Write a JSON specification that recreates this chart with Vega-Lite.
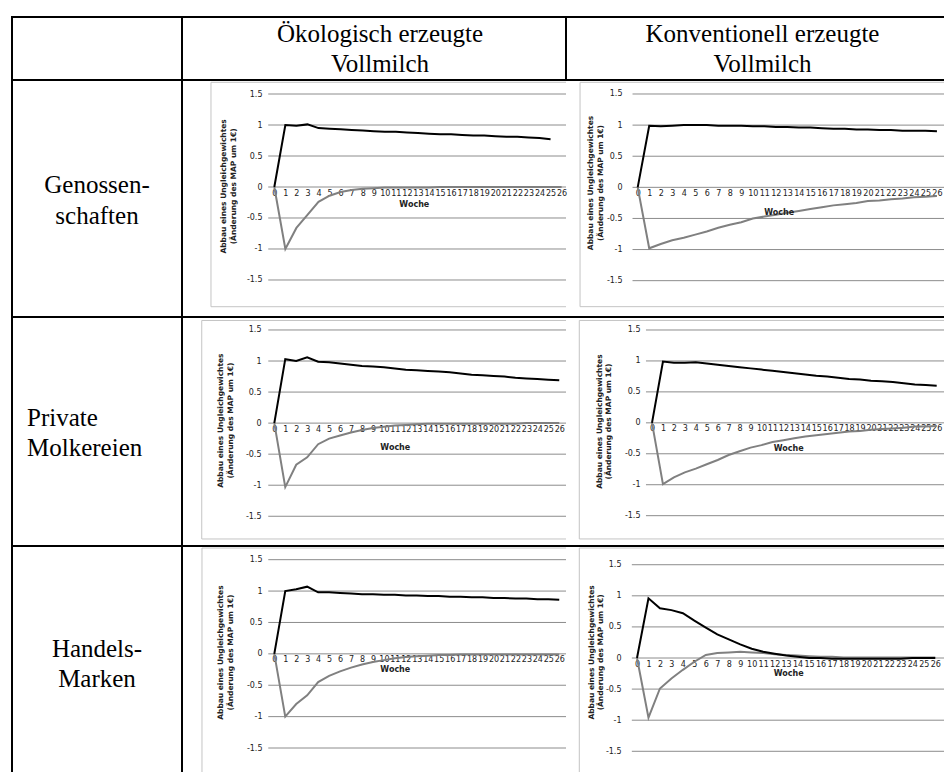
{
"$schema": "https://vega.github.io/schema/vega-lite/v6.json",
"background": "white",
"padding": {"left": 11, "top": 16, "right": 0, "bottom": 0},
"columns": 3,
"spacing": 0,
"bounds": "flush",
"config": {"concat": {"spacing": 0}, "view": {"stroke": null},
 "axis": {"labelOverlap": false, "labelFlush": false, "labelBound": false, "domain": false, "ticks": false, "tickSize": 0, "grid": false, "labelFont": "DejaVu Sans", "labelFontSize": 8, "labelColor": "#222", "titleFontSize": 0, "zindex": 1},
 "axisX": {"labelPadding": 2},
 "axisY": {"labelPadding": 0}},
"datasets": {
"one": [{"k": 1}],
"grid": [{"g": -1.5}, {"g": -1}, {"g": -0.5}, {"g": 0}, {"g": 0.5}, {"g": 1}, {"g": 1.5}],
"p1": [
{"w":0,"s":"a","v":0},{"w":1,"s":"a","v":1.0},{"w":2,"s":"a","v":0.99},{"w":3,"s":"a","v":1.01},{"w":4,"s":"a","v":0.95},{"w":5,"s":"a","v":0.94},{"w":6,"s":"a","v":0.93},{"w":7,"s":"a","v":0.92},{"w":8,"s":"a","v":0.91},{"w":9,"s":"a","v":0.9},{"w":10,"s":"a","v":0.89},{"w":11,"s":"a","v":0.89},{"w":12,"s":"a","v":0.88},{"w":13,"s":"a","v":0.87},{"w":14,"s":"a","v":0.86},{"w":15,"s":"a","v":0.85},{"w":16,"s":"a","v":0.85},{"w":17,"s":"a","v":0.84},{"w":18,"s":"a","v":0.83},{"w":19,"s":"a","v":0.83},{"w":20,"s":"a","v":0.82},{"w":21,"s":"a","v":0.81},{"w":22,"s":"a","v":0.81},{"w":23,"s":"a","v":0.8},{"w":24,"s":"a","v":0.79},{"w":25,"s":"a","v":0.77},
{"w":0,"s":"b","v":0},{"w":1,"s":"b","v":-1.0},{"w":2,"s":"b","v":-0.66},{"w":3,"s":"b","v":-0.45},{"w":4,"s":"b","v":-0.24},{"w":5,"s":"b","v":-0.14},{"w":6,"s":"b","v":-0.08},{"w":7,"s":"b","v":-0.05},{"w":8,"s":"b","v":-0.03},{"w":9,"s":"b","v":-0.02},{"w":10,"s":"b","v":-0.01},{"w":11,"s":"b","v":-0.01},{"w":12,"s":"b","v":-0.01},{"w":13,"s":"b","v":-0.01},{"w":14,"s":"b","v":-0.01},{"w":15,"s":"b","v":0},{"w":16,"s":"b","v":0},{"w":17,"s":"b","v":0},{"w":18,"s":"b","v":0},{"w":19,"s":"b","v":0},{"w":20,"s":"b","v":0},{"w":21,"s":"b","v":0},{"w":22,"s":"b","v":0},{"w":23,"s":"b","v":0},{"w":24,"s":"b","v":0},{"w":25,"s":"b","v":0},{"w":26,"s":"b","v":0}
],
"p2": [
{"w":0,"s":"a","v":0},{"w":1,"s":"a","v":0.99},{"w":2,"s":"a","v":0.98},{"w":3,"s":"a","v":0.99},{"w":4,"s":"a","v":1.0},{"w":5,"s":"a","v":1.0},{"w":6,"s":"a","v":1.0},{"w":7,"s":"a","v":0.99},{"w":8,"s":"a","v":0.99},{"w":9,"s":"a","v":0.99},{"w":10,"s":"a","v":0.98},{"w":11,"s":"a","v":0.98},{"w":12,"s":"a","v":0.97},{"w":13,"s":"a","v":0.97},{"w":14,"s":"a","v":0.96},{"w":15,"s":"a","v":0.96},{"w":16,"s":"a","v":0.95},{"w":17,"s":"a","v":0.94},{"w":18,"s":"a","v":0.94},{"w":19,"s":"a","v":0.93},{"w":20,"s":"a","v":0.93},{"w":21,"s":"a","v":0.92},{"w":22,"s":"a","v":0.92},{"w":23,"s":"a","v":0.91},{"w":24,"s":"a","v":0.91},{"w":25,"s":"a","v":0.91},{"w":26,"s":"a","v":0.9},
{"w":0,"s":"b","v":0},{"w":1,"s":"b","v":-0.98},{"w":2,"s":"b","v":-0.91},{"w":3,"s":"b","v":-0.85},{"w":4,"s":"b","v":-0.81},{"w":5,"s":"b","v":-0.76},{"w":6,"s":"b","v":-0.71},{"w":7,"s":"b","v":-0.65},{"w":8,"s":"b","v":-0.6},{"w":9,"s":"b","v":-0.56},{"w":10,"s":"b","v":-0.5},{"w":11,"s":"b","v":-0.47},{"w":12,"s":"b","v":-0.44},{"w":13,"s":"b","v":-0.41},{"w":14,"s":"b","v":-0.38},{"w":15,"s":"b","v":-0.35},{"w":16,"s":"b","v":-0.32},{"w":17,"s":"b","v":-0.29},{"w":18,"s":"b","v":-0.27},{"w":19,"s":"b","v":-0.25},{"w":20,"s":"b","v":-0.22},{"w":21,"s":"b","v":-0.21},{"w":22,"s":"b","v":-0.19},{"w":23,"s":"b","v":-0.18},{"w":24,"s":"b","v":-0.16},{"w":25,"s":"b","v":-0.15},{"w":26,"s":"b","v":-0.14}
],
"p3": [
{"w":0,"s":"a","v":0},{"w":1,"s":"a","v":1.03},{"w":2,"s":"a","v":1.0},{"w":3,"s":"a","v":1.06},{"w":4,"s":"a","v":0.99},{"w":5,"s":"a","v":0.98},{"w":6,"s":"a","v":0.96},{"w":7,"s":"a","v":0.94},{"w":8,"s":"a","v":0.92},{"w":9,"s":"a","v":0.91},{"w":10,"s":"a","v":0.9},{"w":11,"s":"a","v":0.88},{"w":12,"s":"a","v":0.86},{"w":13,"s":"a","v":0.85},{"w":14,"s":"a","v":0.84},{"w":15,"s":"a","v":0.83},{"w":16,"s":"a","v":0.82},{"w":17,"s":"a","v":0.8},{"w":18,"s":"a","v":0.78},{"w":19,"s":"a","v":0.77},{"w":20,"s":"a","v":0.76},{"w":21,"s":"a","v":0.75},{"w":22,"s":"a","v":0.73},{"w":23,"s":"a","v":0.72},{"w":24,"s":"a","v":0.71},{"w":25,"s":"a","v":0.7},{"w":26,"s":"a","v":0.69},
{"w":0,"s":"b","v":0},{"w":1,"s":"b","v":-1.03},{"w":2,"s":"b","v":-0.67},{"w":3,"s":"b","v":-0.55},{"w":4,"s":"b","v":-0.34},{"w":5,"s":"b","v":-0.25},{"w":6,"s":"b","v":-0.2},{"w":7,"s":"b","v":-0.15},{"w":8,"s":"b","v":-0.11},{"w":9,"s":"b","v":-0.08},{"w":10,"s":"b","v":-0.06},{"w":11,"s":"b","v":-0.04},{"w":12,"s":"b","v":-0.03},{"w":13,"s":"b","v":-0.02},{"w":14,"s":"b","v":-0.01},{"w":15,"s":"b","v":-0.01},{"w":16,"s":"b","v":-0.01},{"w":17,"s":"b","v":-0.01},{"w":18,"s":"b","v":-0.01},{"w":19,"s":"b","v":-0.01},{"w":20,"s":"b","v":-0.01},{"w":21,"s":"b","v":-0.01},{"w":22,"s":"b","v":-0.01},{"w":23,"s":"b","v":0},{"w":24,"s":"b","v":0},{"w":25,"s":"b","v":0},{"w":26,"s":"b","v":0}
],
"p4": [
{"w":0,"s":"a","v":0},{"w":1,"s":"a","v":0.99},{"w":2,"s":"a","v":0.97},{"w":3,"s":"a","v":0.97},{"w":4,"s":"a","v":0.98},{"w":5,"s":"a","v":0.96},{"w":6,"s":"a","v":0.94},{"w":7,"s":"a","v":0.92},{"w":8,"s":"a","v":0.9},{"w":9,"s":"a","v":0.88},{"w":10,"s":"a","v":0.86},{"w":11,"s":"a","v":0.84},{"w":12,"s":"a","v":0.82},{"w":13,"s":"a","v":0.8},{"w":14,"s":"a","v":0.78},{"w":15,"s":"a","v":0.76},{"w":16,"s":"a","v":0.75},{"w":17,"s":"a","v":0.73},{"w":18,"s":"a","v":0.71},{"w":19,"s":"a","v":0.7},{"w":20,"s":"a","v":0.68},{"w":21,"s":"a","v":0.67},{"w":22,"s":"a","v":0.66},{"w":23,"s":"a","v":0.64},{"w":24,"s":"a","v":0.62},{"w":25,"s":"a","v":0.61},{"w":26,"s":"a","v":0.6},
{"w":0,"s":"b","v":0},{"w":1,"s":"b","v":-0.99},{"w":2,"s":"b","v":-0.88},{"w":3,"s":"b","v":-0.8},{"w":4,"s":"b","v":-0.74},{"w":5,"s":"b","v":-0.67},{"w":6,"s":"b","v":-0.6},{"w":7,"s":"b","v":-0.52},{"w":8,"s":"b","v":-0.46},{"w":9,"s":"b","v":-0.4},{"w":10,"s":"b","v":-0.36},{"w":11,"s":"b","v":-0.31},{"w":12,"s":"b","v":-0.28},{"w":13,"s":"b","v":-0.25},{"w":14,"s":"b","v":-0.22},{"w":15,"s":"b","v":-0.2},{"w":16,"s":"b","v":-0.18},{"w":17,"s":"b","v":-0.16},{"w":18,"s":"b","v":-0.14},{"w":19,"s":"b","v":-0.13},{"w":20,"s":"b","v":-0.11},{"w":21,"s":"b","v":-0.1},{"w":22,"s":"b","v":-0.09},{"w":23,"s":"b","v":-0.08},{"w":24,"s":"b","v":-0.06},{"w":25,"s":"b","v":-0.06},{"w":26,"s":"b","v":-0.05}
],
"p5": [
{"w":0,"s":"a","v":0},{"w":1,"s":"a","v":1.0},{"w":2,"s":"a","v":1.03},{"w":3,"s":"a","v":1.07},{"w":4,"s":"a","v":0.98},{"w":5,"s":"a","v":0.98},{"w":6,"s":"a","v":0.97},{"w":7,"s":"a","v":0.96},{"w":8,"s":"a","v":0.95},{"w":9,"s":"a","v":0.95},{"w":10,"s":"a","v":0.94},{"w":11,"s":"a","v":0.94},{"w":12,"s":"a","v":0.93},{"w":13,"s":"a","v":0.93},{"w":14,"s":"a","v":0.92},{"w":15,"s":"a","v":0.92},{"w":16,"s":"a","v":0.91},{"w":17,"s":"a","v":0.91},{"w":18,"s":"a","v":0.9},{"w":19,"s":"a","v":0.9},{"w":20,"s":"a","v":0.89},{"w":21,"s":"a","v":0.89},{"w":22,"s":"a","v":0.88},{"w":23,"s":"a","v":0.88},{"w":24,"s":"a","v":0.87},{"w":25,"s":"a","v":0.87},{"w":26,"s":"a","v":0.86},
{"w":0,"s":"b","v":0},{"w":1,"s":"b","v":-1.0},{"w":2,"s":"b","v":-0.8},{"w":3,"s":"b","v":-0.66},{"w":4,"s":"b","v":-0.45},{"w":5,"s":"b","v":-0.35},{"w":6,"s":"b","v":-0.28},{"w":7,"s":"b","v":-0.22},{"w":8,"s":"b","v":-0.17},{"w":9,"s":"b","v":-0.13},{"w":10,"s":"b","v":-0.1},{"w":11,"s":"b","v":-0.07},{"w":12,"s":"b","v":-0.05},{"w":13,"s":"b","v":-0.04},{"w":14,"s":"b","v":-0.03},{"w":15,"s":"b","v":-0.02},{"w":16,"s":"b","v":-0.02},{"w":17,"s":"b","v":-0.01},{"w":18,"s":"b","v":-0.01},{"w":19,"s":"b","v":-0.01},{"w":20,"s":"b","v":-0.01},{"w":21,"s":"b","v":-0.01},{"w":22,"s":"b","v":-0.01},{"w":23,"s":"b","v":-0.01},{"w":24,"s":"b","v":-0.01},{"w":25,"s":"b","v":-0.01},{"w":26,"s":"b","v":-0.01}
],
"p6": [
{"w":0,"s":"a","v":0},{"w":1,"s":"a","v":0.96},{"w":2,"s":"a","v":0.8},{"w":3,"s":"a","v":0.77},{"w":4,"s":"a","v":0.72},{"w":5,"s":"a","v":0.6},{"w":6,"s":"a","v":0.49},{"w":7,"s":"a","v":0.38},{"w":8,"s":"a","v":0.3},{"w":9,"s":"a","v":0.22},{"w":10,"s":"a","v":0.15},{"w":11,"s":"a","v":0.1},{"w":12,"s":"a","v":0.07},{"w":13,"s":"a","v":0.04},{"w":14,"s":"a","v":0.02},{"w":15,"s":"a","v":0.0},{"w":16,"s":"a","v":0.0},{"w":17,"s":"a","v":-0.01},{"w":18,"s":"a","v":-0.01},{"w":19,"s":"a","v":-0.01},{"w":20,"s":"a","v":-0.01},{"w":21,"s":"a","v":-0.01},{"w":22,"s":"a","v":-0.01},{"w":23,"s":"a","v":-0.01},{"w":24,"s":"a","v":0.0},{"w":25,"s":"a","v":0.0},{"w":26,"s":"a","v":0.0},
{"w":0,"s":"b","v":0},{"w":1,"s":"b","v":-0.96},{"w":2,"s":"b","v":-0.49},{"w":3,"s":"b","v":-0.33},{"w":4,"s":"b","v":-0.19},{"w":5,"s":"b","v":-0.06},{"w":6,"s":"b","v":0.05},{"w":7,"s":"b","v":0.08},{"w":8,"s":"b","v":0.09},{"w":9,"s":"b","v":0.1},{"w":10,"s":"b","v":0.09},{"w":11,"s":"b","v":0.08},{"w":12,"s":"b","v":0.06},{"w":13,"s":"b","v":0.05},{"w":14,"s":"b","v":0.04},{"w":15,"s":"b","v":0.03},{"w":16,"s":"b","v":0.02},{"w":17,"s":"b","v":0.02},{"w":18,"s":"b","v":0.01},{"w":19,"s":"b","v":0.01},{"w":20,"s":"b","v":0.01},{"w":21,"s":"b","v":0.01},{"w":22,"s":"b","v":0.01},{"w":23,"s":"b","v":0.01},{"w":24,"s":"b","v":0.01},{"w":25,"s":"b","v":0.01},{"w":26,"s":"b","v":0.01}
]
},
"concat": [
 {"width": 170, "height": 63, "view": {"stroke": "black", "strokeWidth": 2}, "data": {"name": "one"}, "mark": {"type": "text", "text": " "}, "encoding": {}},
 {"width": 384, "height": 63, "view": {"stroke": "black", "strokeWidth": 2}, "data": {"name": "one"}, "mark": {"type": "text", "text": ["Ökologisch erzeugte", "Vollmilch"], "font": "Liberation Serif", "fontSize": 25, "lineHeight": 30, "align": "center", "baseline": "middle", "color": "black", "dx": 6, "dy": -15}, "encoding": {}},
 {"width": 379, "height": 63, "view": {"stroke": "black", "strokeWidth": 2}, "data": {"name": "one"}, "mark": {"type": "text", "text": ["Konventionell erzeugte", "Vollmilch"], "font": "Liberation Serif", "fontSize": 25, "lineHeight": 30, "align": "center", "baseline": "middle", "color": "black", "dx": 7, "dy": -15}, "encoding": {}},

 {"width": 170, "height": 237, "view": {"stroke": "black", "strokeWidth": 2}, "data": {"name": "one"}, "mark": {"type": "text", "text": ["Genossen-", "schaften"], "font": "Liberation Serif", "fontSize": 25, "lineHeight": 31, "align": "center", "baseline": "middle", "color": "black", "dy": -14}, "encoding": {}},
 {"width": 384, "height": 237, "layer": [
  {"data": {"name": "one"}, "mark": {"type": "rect", "fill": "transparent", "stroke": "#c4c4c4", "strokeWidth": 1, "clip": true}, "encoding": {"x": {"datum": -5.73, "type": "quantitative"}, "x2": {"datum": 40}, "y": {"datum": 1.689, "type": "quantitative"}, "y2": {"datum": -1.931}}},
  {"data": {"name": "grid"}, "mark": {"type": "rule", "color": "#8c8c8c", "strokeWidth": 1, "clip": true}, "encoding": {"y": {"field": "g", "type": "quantitative"}, "x": {"datum": -0.55, "type": "quantitative"}, "x2": {"datum": 40}}},
  {"data": {"name": "p1"}, "transform": [{"filter": "datum.s == 'b'"}], "mark": {"type": "line", "stroke": "#808080", "strokeWidth": 2},
   "encoding": {"x": {"field": "w", "type": "quantitative", "scale": {"domain": [-8.353, 26.398], "nice": false, "zero": false},
     "axis": {"values": [0,1,2,3,4,5,6,7,8,9,10,11,12,13,14,15,16,17,18,19,20,21,22,23,24,25,26], "tickCount": 100, "format": "d", "orient": "bottom", "offset": -130, "labelOverlap": false, "title": null}},
    "y": {"field": "v", "type": "quantitative", "scale": {"domain": [-2.097, 1.726], "nice": false, "zero": false},
     "axis": {"values": [-1.5,-1,-0.5,0,0.5,1,1.5], "tickCount": 100, "labelExpr": "toString(datum.value)", "orient": "left", "offset": -80, "labelOverlap": false, "title": null}}}},
  {"data": {"name": "p1"}, "transform": [{"filter": "datum.s == 'a'"}], "mark": {"type": "line", "stroke": "#000000", "strokeWidth": 2},
   "encoding": {"x": {"field": "w", "type": "quantitative", "scale": {"domain": [-8.353, 26.398], "nice": false, "zero": false}}, "y": {"field": "v", "type": "quantitative", "scale": {"domain": [-2.097, 1.726], "nice": false, "zero": false}}}},
  {"data": {"name": "one"}, "mark": {"type": "text", "text": "Woche", "font": "DejaVu Sans", "fontWeight": "bold", "fontSize": 8, "color": "#222"}, "encoding": {"x": {"datum": 12.67, "type": "quantitative"}, "y": {"datum": -0.29, "type": "quantitative"}}},
  {"data": {"name": "one"}, "mark": {"type": "text", "text": ["Abbau eines Ungleichgewichtes", "(Änderung des MAP um 1€)"], "angle": 270, "font": "DejaVu Sans", "fontWeight": "bold", "fontSize": 7.5, "lineHeight": 9.5, "align": "center", "baseline": "middle", "color": "#222"}, "encoding": {"x": {"datum": -4.55, "type": "quantitative"}, "y": {"datum": 0.01, "type": "quantitative"}}}
 ]},
 {"width": 379, "height": 237, "layer": [
  {"data": {"name": "one"}, "mark": {"type": "rect", "fill": "transparent", "stroke": "#c4c4c4", "strokeWidth": 1, "clip": true}, "encoding": {"x": {"datum": -5.01, "type": "quantitative"}, "x2": {"datum": 40}, "y": {"datum": 1.688, "type": "quantitative"}, "y2": {"datum": -1.918}}},
  {"data": {"name": "grid"}, "mark": {"type": "rule", "color": "#8c8c8c", "strokeWidth": 1, "clip": true}, "encoding": {"y": {"field": "g", "type": "quantitative"}, "x": {"datum": -0.45, "type": "quantitative"}, "x2": {"datum": 40}}},
  {"data": {"name": "p2"}, "transform": [{"filter": "datum.s == 'b'"}], "mark": {"type": "line", "stroke": "#808080", "strokeWidth": 2},
   "encoding": {"x": {"field": "w", "type": "quantitative", "scale": {"domain": [-6.23, 26.70], "nice": false, "zero": false},
     "axis": {"values": [0,1,2,3,4,5,6,7,8,9,10,11,12,13,14,15,16,17,18,19,20,21,22,23,24,25,26], "tickCount": 100, "format": "d", "orient": "bottom", "offset": -129.65, "labelOverlap": false, "title": null}},
    "y": {"field": "v", "type": "quantitative", "scale": {"domain": [-2.084, 1.725], "nice": false, "zero": false},
     "axis": {"values": [-1.5,-1,-0.5,0,0.5,1,1.5], "tickCount": 100, "labelExpr": "toString(datum.value)", "orient": "left", "offset": -56, "labelOverlap": false, "title": null}}}},
  {"data": {"name": "p2"}, "transform": [{"filter": "datum.s == 'a'"}], "mark": {"type": "line", "stroke": "#000000", "strokeWidth": 2},
   "encoding": {"x": {"field": "w", "type": "quantitative", "scale": {"domain": [-6.23, 26.70], "nice": false, "zero": false}}, "y": {"field": "v", "type": "quantitative", "scale": {"domain": [-2.084, 1.725], "nice": false, "zero": false}}}},
  {"data": {"name": "one"}, "mark": {"type": "text", "text": "Woche", "font": "DejaVu Sans", "fontWeight": "bold", "fontSize": 8, "color": "#222"}, "encoding": {"x": {"datum": 12.3, "type": "quantitative"}, "y": {"datum": -0.41, "type": "quantitative"}}},
  {"data": {"name": "one"}, "mark": {"type": "text", "text": ["Abbau eines Ungleichgewichtes", "(Änderung des MAP um 1€)"], "angle": 270, "font": "DejaVu Sans", "fontWeight": "bold", "fontSize": 7.5, "lineHeight": 9.5, "align": "center", "baseline": "middle", "color": "#222"}, "encoding": {"x": {"datum": -4.03, "type": "quantitative"}, "y": {"datum": 0.07, "type": "quantitative"}}}
 ]},

 {"width": 170, "height": 229, "view": {"stroke": "black", "strokeWidth": 2}, "data": {"name": "one"}, "mark": {"type": "text", "text": ["Private", "Molkereien"], "font": "Liberation Serif", "fontSize": 25, "lineHeight": 30, "align": "left", "baseline": "middle", "color": "black", "dx": -70, "dy": -14}, "encoding": {}},
 {"width": 384, "height": 229, "layer": [
  {"data": {"name": "one"}, "mark": {"type": "rect", "fill": "transparent", "stroke": "#c4c4c4", "strokeWidth": 1, "clip": true}, "encoding": {"x": {"datum": -6.62, "type": "quantitative"}, "x2": {"datum": 40}, "y": {"datum": 1.653, "type": "quantitative"}, "y2": {"datum": -1.866}}},
  {"data": {"name": "grid"}, "mark": {"type": "rule", "color": "#8c8c8c", "strokeWidth": 1, "clip": true}, "encoding": {"y": {"field": "g", "type": "quantitative"}, "x": {"datum": -0.55, "type": "quantitative"}, "x2": {"datum": 40}}},
  {"data": {"name": "p3"}, "transform": [{"filter": "datum.s == 'b'"}], "mark": {"type": "line", "stroke": "#808080", "strokeWidth": 2},
   "encoding": {"x": {"field": "w", "type": "quantitative", "scale": {"domain": [-8.422, 26.615], "nice": false, "zero": false},
     "axis": {"values": [0,1,2,3,4,5,6,7,8,9,10,11,12,13,14,15,16,17,18,19,20,21,22,23,24,25,26], "tickCount": 100, "format": "d", "orient": "bottom", "offset": -122.85, "labelOverlap": false, "title": null}},
    "y": {"field": "v", "type": "quantitative", "scale": {"domain": [-1.979, 1.709], "nice": false, "zero": false},
     "axis": {"values": [-1.5,-1,-0.5,0,0.5,1,1.5], "tickCount": 100, "labelExpr": "toString(datum.value)", "orient": "left", "offset": -79, "labelOverlap": false, "title": null}}}},
  {"data": {"name": "p3"}, "transform": [{"filter": "datum.s == 'a'"}], "mark": {"type": "line", "stroke": "#000000", "strokeWidth": 2},
   "encoding": {"x": {"field": "w", "type": "quantitative", "scale": {"domain": [-8.422, 26.615], "nice": false, "zero": false}}, "y": {"field": "v", "type": "quantitative", "scale": {"domain": [-1.979, 1.709], "nice": false, "zero": false}}}},
  {"data": {"name": "one"}, "mark": {"type": "text", "text": "Woche", "font": "DejaVu Sans", "fontWeight": "bold", "fontSize": 8, "color": "#222"}, "encoding": {"x": {"datum": 11.04, "type": "quantitative"}, "y": {"datum": -0.4, "type": "quantitative"}}},
  {"data": {"name": "one"}, "mark": {"type": "text", "text": ["Abbau eines Ungleichgewichtes", "(Änderung des MAP um 1€)"], "angle": 270, "font": "DejaVu Sans", "fontWeight": "bold", "fontSize": 7.5, "lineHeight": 9.5, "align": "center", "baseline": "middle", "color": "#222"}, "encoding": {"x": {"datum": -4.84, "type": "quantitative"}, "y": {"datum": 0.04, "type": "quantitative"}}},
  {"data": {"name": "one"}, "mark": {"type": "rule", "color": "black", "strokeWidth": 2}, "encoding": {"y": {"datum": 1.709, "type": "quantitative"}, "x": {"datum": -8.422, "type": "quantitative"}, "x2": {"datum": 26.615}}}
 ]},
 {"width": 379, "height": 229, "layer": [
  {"data": {"name": "one"}, "mark": {"type": "rect", "fill": "transparent", "stroke": "#c4c4c4", "strokeWidth": 1, "clip": true}, "encoding": {"x": {"datum": -6.64, "type": "quantitative"}, "x2": {"datum": 40}, "y": {"datum": 1.654, "type": "quantitative"}, "y2": {"datum": -1.876}}},
  {"data": {"name": "grid"}, "mark": {"type": "rule", "color": "#8c8c8c", "strokeWidth": 1, "clip": true}, "encoding": {"y": {"field": "g", "type": "quantitative"}, "x": {"datum": -0.55, "type": "quantitative"}, "x2": {"datum": 40}}},
  {"data": {"name": "p4"}, "transform": [{"filter": "datum.s == 'b'"}], "mark": {"type": "line", "stroke": "#808080", "strokeWidth": 2},
   "encoding": {"x": {"field": "w", "type": "quantitative", "scale": {"domain": [-7.854, 26.758], "nice": false, "zero": false},
     "axis": {"values": [0,1,2,3,4,5,6,7,8,9,10,11,12,13,14,15,16,17,18,19,20,21,22,23,24,25,26], "tickCount": 100, "format": "d", "orient": "bottom", "offset": -123.15, "labelOverlap": false, "title": null}},
    "y": {"field": "v", "type": "quantitative", "scale": {"domain": [-1.99, 1.71], "nice": false, "zero": false},
     "axis": {"values": [-1.5,-1,-0.5,0,0.5,1,1.5], "tickCount": 100, "labelExpr": "toString(datum.value)", "orient": "left", "offset": -74, "labelOverlap": false, "title": null}}}},
  {"data": {"name": "p4"}, "transform": [{"filter": "datum.s == 'a'"}], "mark": {"type": "line", "stroke": "#000000", "strokeWidth": 2},
   "encoding": {"x": {"field": "w", "type": "quantitative", "scale": {"domain": [-7.854, 26.758], "nice": false, "zero": false}}, "y": {"field": "v", "type": "quantitative", "scale": {"domain": [-1.99, 1.71], "nice": false, "zero": false}}}},
  {"data": {"name": "one"}, "mark": {"type": "text", "text": "Woche", "font": "DejaVu Sans", "fontWeight": "bold", "fontSize": 8, "color": "#222"}, "encoding": {"x": {"datum": 12.48, "type": "quantitative"}, "y": {"datum": -0.42, "type": "quantitative"}}},
  {"data": {"name": "one"}, "mark": {"type": "text", "text": ["Abbau eines Ungleichgewichtes", "(Änderung des MAP um 1€)"], "angle": 270, "font": "DejaVu Sans", "fontWeight": "bold", "fontSize": 7.5, "lineHeight": 9.5, "align": "center", "baseline": "middle", "color": "#222"}, "encoding": {"x": {"datum": -4.79, "type": "quantitative"}, "y": {"datum": 0.02, "type": "quantitative"}}},
  {"data": {"name": "one"}, "mark": {"type": "rule", "color": "black", "strokeWidth": 2}, "encoding": {"y": {"datum": 1.71, "type": "quantitative"}, "x": {"datum": -7.854, "type": "quantitative"}, "x2": {"datum": 26.758}}}
 ]},

 {"width": 170, "height": 227, "view": {"stroke": "black", "strokeWidth": 2}, "data": {"name": "one"}, "mark": {"type": "text", "text": ["Handels-", "Marken"], "font": "Liberation Serif", "fontSize": 25, "lineHeight": 30, "align": "center", "baseline": "middle", "color": "black", "dy": -11}, "encoding": {}},
 {"width": 384, "height": 227, "layer": [
  {"data": {"name": "one"}, "mark": {"type": "rect", "fill": "transparent", "stroke": "#c4c4c4", "strokeWidth": 1, "clip": true}, "encoding": {"x": {"datum": -6.6, "type": "quantitative"}, "x2": {"datum": 40}, "y": {"datum": 1.686, "type": "quantitative"}, "y2": {"datum": -5}}},
  {"data": {"name": "grid"}, "mark": {"type": "rule", "color": "#8c8c8c", "strokeWidth": 1, "clip": true}, "encoding": {"y": {"field": "g", "type": "quantitative"}, "x": {"datum": -0.55, "type": "quantitative"}, "x2": {"datum": 40}}},
  {"data": {"name": "p5"}, "transform": [{"filter": "datum.s == 'b'"}], "mark": {"type": "line", "stroke": "#808080", "strokeWidth": 2},
   "encoding": {"x": {"field": "w", "type": "quantitative", "scale": {"domain": [-8.422, 26.615], "nice": false, "zero": false},
     "axis": {"values": [0,1,2,3,4,5,6,7,8,9,10,11,12,13,14,15,16,17,18,19,20,21,22,23,24,25,26], "tickCount": 100, "format": "d", "orient": "bottom", "offset": -119.15, "labelOverlap": false, "title": null}},
    "y": {"field": "v", "type": "quantitative", "scale": {"domain": [-1.898, 1.718], "nice": false, "zero": false},
     "axis": {"values": [-1.5,-1,-0.5,0,0.5,1,1.5], "tickCount": 100, "labelExpr": "toString(datum.value)", "orient": "left", "offset": -80, "labelOverlap": false, "title": null}}}},
  {"data": {"name": "p5"}, "transform": [{"filter": "datum.s == 'a'"}], "mark": {"type": "line", "stroke": "#000000", "strokeWidth": 2},
   "encoding": {"x": {"field": "w", "type": "quantitative", "scale": {"domain": [-8.422, 26.615], "nice": false, "zero": false}}, "y": {"field": "v", "type": "quantitative", "scale": {"domain": [-1.898, 1.718], "nice": false, "zero": false}}}},
  {"data": {"name": "one"}, "mark": {"type": "text", "text": "Woche", "font": "DejaVu Sans", "fontWeight": "bold", "fontSize": 8, "color": "#222"}, "encoding": {"x": {"datum": 11.04, "type": "quantitative"}, "y": {"datum": -0.26, "type": "quantitative"}}},
  {"data": {"name": "one"}, "mark": {"type": "text", "text": ["Abbau eines Ungleichgewichtes", "(Änderung des MAP um 1€)"], "angle": 270, "font": "DejaVu Sans", "fontWeight": "bold", "fontSize": 7.5, "lineHeight": 9.5, "align": "center", "baseline": "middle", "color": "#222"}, "encoding": {"x": {"datum": -4.84, "type": "quantitative"}, "y": {"datum": 0.02, "type": "quantitative"}}},
  {"data": {"name": "one"}, "mark": {"type": "rule", "color": "black", "strokeWidth": 2}, "encoding": {"y": {"datum": 1.718, "type": "quantitative"}, "x": {"datum": -8.422, "type": "quantitative"}, "x2": {"datum": 26.615}}}
 ]},
 {"width": 379, "height": 227, "layer": [
  {"data": {"name": "one"}, "mark": {"type": "rect", "fill": "transparent", "stroke": "#c4c4c4", "strokeWidth": 1, "clip": true}, "encoding": {"x": {"datum": -5.03, "type": "quantitative"}, "x2": {"datum": 40}, "y": {"datum": 1.769, "type": "quantitative"}, "y2": {"datum": -5}}},
  {"data": {"name": "grid"}, "mark": {"type": "rule", "color": "#8c8c8c", "strokeWidth": 1, "clip": true}, "encoding": {"y": {"field": "g", "type": "quantitative"}, "x": {"datum": -0.45, "type": "quantitative"}, "x2": {"datum": 40}}},
  {"data": {"name": "p6"}, "transform": [{"filter": "datum.s == 'b'"}], "mark": {"type": "line", "stroke": "#808080", "strokeWidth": 2},
   "encoding": {"x": {"field": "w", "type": "quantitative", "scale": {"domain": [-6.19, 26.85], "nice": false, "zero": false},
     "axis": {"values": [0,1,2,3,4,5,6,7,8,9,10,11,12,13,14,15,16,17,18,19,20,21,22,23,24,25,26], "tickCount": 100, "format": "d", "orient": "bottom", "offset": -115, "labelOverlap": false, "title": null}},
    "y": {"field": "v", "type": "quantitative", "scale": {"domain": [-1.849, 1.801], "nice": false, "zero": false},
     "axis": {"values": [-1.5,-1,-0.5,0,0.5,1,1.5], "tickCount": 100, "labelExpr": "toString(datum.value)", "orient": "left", "offset": -55, "labelOverlap": false, "title": null}}}},
  {"data": {"name": "p6"}, "transform": [{"filter": "datum.s == 'a'"}], "mark": {"type": "line", "stroke": "#000000", "strokeWidth": 2},
   "encoding": {"x": {"field": "w", "type": "quantitative", "scale": {"domain": [-6.19, 26.85], "nice": false, "zero": false}}, "y": {"field": "v", "type": "quantitative", "scale": {"domain": [-1.849, 1.801], "nice": false, "zero": false}}}},
  {"data": {"name": "one"}, "mark": {"type": "text", "text": "Woche", "font": "DejaVu Sans", "fontWeight": "bold", "fontSize": 8, "color": "#222"}, "encoding": {"x": {"datum": 13.22, "type": "quantitative"}, "y": {"datum": -0.26, "type": "quantitative"}}},
  {"data": {"name": "one"}, "mark": {"type": "text", "text": ["Abbau eines Ungleichgewichtes", "(Änderung des MAP um 1€)"], "angle": 270, "font": "DejaVu Sans", "fontWeight": "bold", "fontSize": 7.5, "lineHeight": 9.5, "align": "center", "baseline": "middle", "color": "#222"}, "encoding": {"x": {"datum": -3.94, "type": "quantitative"}, "y": {"datum": 0.09, "type": "quantitative"}}},
  {"data": {"name": "one"}, "mark": {"type": "rule", "color": "black", "strokeWidth": 2}, "encoding": {"y": {"datum": 1.801, "type": "quantitative"}, "x": {"datum": -6.19, "type": "quantitative"}, "x2": {"datum": 26.85}}}
 ]}
]
}
